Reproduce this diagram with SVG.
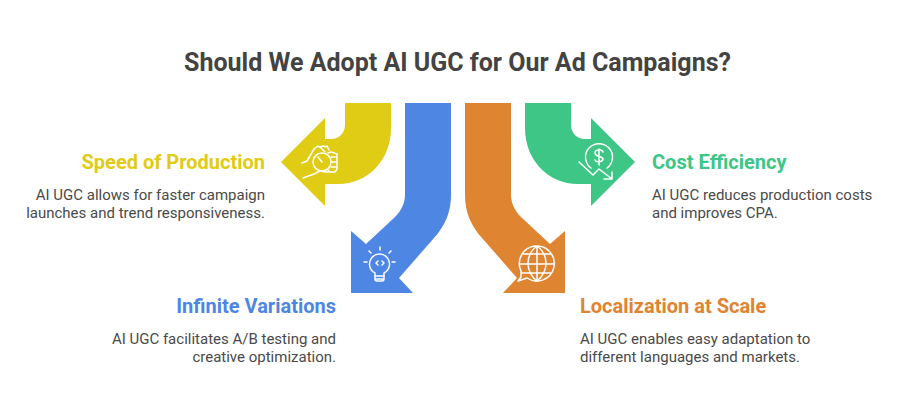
<svg xmlns="http://www.w3.org/2000/svg" width="915" height="414" viewBox="0 0 915 414">
<style>
text{font-family:Roboto,"Liberation Sans",sans-serif}
.t{font-size:25px;font-weight:700;fill:#434343}
.h{font-size:20px;font-weight:700}
.b{font-size:15px;fill:#4a4a4a}
.e{text-anchor:end}
.i{fill:none;stroke:#fff;stroke-width:1.5;stroke-linecap:round;stroke-linejoin:round}
</style>
<rect width="915" height="414" fill="#fff"/>
<text class="t" x="457.500" y="71" text-anchor="middle">Should We Adopt AI UGC for Our Ad Campaigns?</text>
<g id="connectors"></g>
<g id="speed">
<path fill="#e0cb15" d="M345 103H391V128C391 160 368 184 338 184H325V206L281 162L325 118V139H331C339 139 345 133 345 125Z"/>
<g class="i"><circle cx="322" cy="162" r="9"/><path d="M322 162l-4-5M302 163l5-2 7-12 4-3 3 2 4 4M319 147l5-1M325 147l2-1 2 4M328 153l3-1 6 2v15l-2 3h-5l-2-2M303 178l11-4 6-3 5 1 6 0M331 157h6M331 162h6M331 167h6"/></g>
<text class="h e" x="265" y="169" fill="#e0cb15">Speed of Production</text>
<text class="b e" x="265" y="199.500">AI UGC allows for faster campaign</text>
<text class="b e" x="265" y="217.500">launches and trend responsiveness.</text>
</g>
<g id="variations">
<path fill="#4e86e4" d="M405 103H451V195C451 212 445 226 434 238L399 278L413 293H351V231L366 244L395 217C401 211 405 203 405 195Z"/>
<g class="i"><path d="M375 273a10 10 0 1 1 9 0v3h-9ZM375 276v3a2 2 0 0 0 2 2h5a2 2 0 0 0 2-2v-3M375 279h9M378 265l-2-2 2-2M382 265l2-2-2-2M364 262h3M392 262h3M380 247v3M369 251l2 2M391 251l-2 2"/></g>
<text class="h e" x="336" y="313" fill="#4e86e4">Infinite Variations</text>
<text class="b e" x="336" y="343.500">AI UGC facilitates A/B testing and</text>
<text class="b e" x="336" y="361.500">creative optimization.</text>
</g>
<g id="localization">
<path fill="#df8430" d="M511 103H465V195C465 212 471 226 482 238L517 278L503 293H565V231L550 244L521 217C515 211 511 203 511 195Z"/>
<g class="i"><path d="M521 271a17.500 17.500 0 1 1 6 7l-9 3 3-4ZM537 246c-12 9-12 25 0 35M537 246c12 9 12 25 0 35M537 246v35M523 254h28M520 264h34M521 273h30"/></g>
<text class="h" x="580" y="313" fill="#df8430">Localization at Scale</text>
<text class="b" x="580" y="343.500">AI UGC enables easy adaptation to</text>
<text class="b" x="580" y="361.500">different languages and markets.</text>
</g>
<g id="cost">
<path fill="#3dc685" d="M571 103H525V128C525 160 548 184 578 184H591V206L635 162L591 118V139H585C577 139 571 133 571 125Z"/>
<g class="i"><path d="M591 168a13.500 13.500 0 1 1 16 0M603 152c-1-3-8-3-8 1s8 3 8 6-7 4-8 1M599 149v16M579 162l14 13 6-6 13 10M612 172v7h-8"/></g>
<text class="h" x="652" y="169" fill="#3dc685">Cost Efficiency</text>
<text class="b" x="652" y="199.500">AI UGC reduces production costs</text>
<text class="b" x="652" y="217.500">and improves CPA.</text>
</g>
</svg>
